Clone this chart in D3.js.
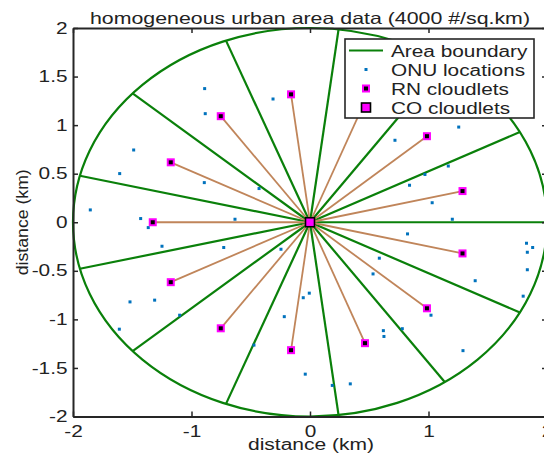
<!DOCTYPE html>
<html>
<head>
<meta charset="utf-8">
<script src="https://cdn.jsdelivr.net/npm/d3@7"></script>
<style>
  html, body { margin: 0; padding: 0; background: #fff; }
  svg { display: block; }
  text { font-family: "Liberation Sans", Arial, sans-serif; fill: #222; }
</style>
</head>
<body>
<svg id="chart" width="544" height="454"></svg>
<script>
// ---- data (km) ----
const title = "homogeneous urban area data (4000 #/sq.km)";
const xLabel = "distance (km)";
const yLabel = "distance (km)";
const xTicks = [-2, -1, 0, 1, 2];
const yTicks = [-2, -1.5, -1, -0.5, 0, 0.5, 1, 1.5, 2];
const areaRadius = 2;

// sector boundary end points on the area boundary
const boundaryX = [2.000, 1.771, 1.137, 0.241, -0.709, -1.497, -1.942, -1.942, -1.497, -0.709, 0.241, 1.137, 1.771];
const boundaryY = [0.000, 0.929, 1.645, 1.985, 1.870, 1.326, 0.479, -0.479, -1.326, -1.870, -1.985, -1.645, -0.929];

// RN cloudlets
const rnX = [1.287, 0.987, 0.464, -0.160, -0.753, -1.175, -1.327, -1.175, -0.753, -0.160, 0.464, 0.987, 1.287];
const rnY = [0.321, 0.886, 1.245, 1.317, 1.092, 0.617, 0.000, -0.617, -1.092, -1.317, -1.245, -0.886, -0.321];

// CO cloudlet
const coX = [0];
const coY = [0];

// ONU locations
const onuX = [-0.889, -0.884, -0.312, -1.488, -1.606, -0.892, -0.430, -1.854, -1.429, -1.365,
              -0.633, -1.249, -0.728, -1.311, -1.519, -1.100, -1.609, -0.473, -0.245, -0.006,
              -0.057, -0.217, -0.040, 0.188, 0.340, 0.585, 0.532, 0.619, 0.624, 0.779,
              1.021, 1.291, 0.823, 1.394, 1.799, 1.827, 1.879, 1.834, 1.834, 1.201,
              1.031, 0.840, 0.970, 1.167, 0.717, 1.255];
const onuY = [1.376, 1.118, 1.269, 0.744, 0.501, 0.408, 0.347, 0.127, 0.038, -0.055,
              0.031, -0.247, -0.260, -0.802, -0.820, -0.957, -1.101, -1.265, -0.278, -0.730,
              -0.777, -0.972, -1.564, -1.680, -1.664, -0.370, -0.532, -1.116, -1.176, -1.096,
              -0.957, -1.322, -0.120, -0.602, -0.761, -0.216, -0.260, -0.309, -0.489, 0.031,
              0.201, 0.381, 0.492, 0.579, 0.844, 0.980];

const legendLabels = ["Area boundary", "ONU locations", "RN cloudlets", "CO cloudlets"];

// ---- styles ----
const GREEN = "#0a800a";
const BROWN = "#c0855a";
const BLUE = "#0072BD";
const MAGENTA = "#ff00ff";
const AXIS = "#262626";
const STRETCH = 1.3;

const svg = d3.select("#chart");
const x = d3.scaleLinear().domain([-2, 2]).range([73, 547]);
const y = d3.scaleLinear().domain([-2, 2]).range([416.5, 28]);

function stretch(sel, f) {
  sel.each(function () {
    const w = this.getComputedTextLength();
    d3.select(this).attr("textLength", w * f).attr("lengthAdjust", "spacingAndGlyphs");
  });
}

const plot = svg.append("g");

// area boundary
plot.append("ellipse")
  .attr("cx", x(0)).attr("cy", y(0))
  .attr("rx", x(areaRadius) - x(0)).attr("ry", y(0) - y(areaRadius))
  .attr("fill", "none").attr("stroke", GREEN).attr("stroke-width", 2.2);

plot.selectAll("line.bnd").data(boundaryX).join("line").attr("class", "bnd")
  .attr("x1", x(coX[0])).attr("y1", y(coY[0]))
  .attr("x2", (d) => x(d)).attr("y2", (d, i) => y(boundaryY[i]))
  .attr("stroke", GREEN).attr("stroke-width", 2.2);

// RN links
plot.selectAll("line.lnk").data(rnX).join("line").attr("class", "lnk")
  .attr("x1", x(coX[0])).attr("y1", y(coY[0]))
  .attr("x2", (d) => x(d)).attr("y2", (d, i) => y(rnY[i]))
  .attr("stroke", BROWN).attr("stroke-width", 1.8);

// ONU points
plot.selectAll("rect.onu").data(onuX).join("rect").attr("class", "onu")
  .attr("x", (d) => x(d) - 1.5).attr("y", (d, i) => y(onuY[i]) - 1.5)
  .attr("width", 3).attr("height", 3).attr("fill", BLUE);

// RN markers
plot.selectAll("rect.rn").data(rnX).join("rect").attr("class", "rn")
  .attr("x", (d) => x(d) - 3).attr("y", (d, i) => y(rnY[i]) - 3)
  .attr("width", 6).attr("height", 6)
  .attr("fill", "#000").attr("stroke", MAGENTA).attr("stroke-width", 2);

// CO marker
plot.selectAll("rect.co").data(coX).join("rect").attr("class", "co")
  .attr("x", (d) => x(d) - 4.5).attr("y", (d, i) => y(coY[i]) - 4.5)
  .attr("width", 9).attr("height", 9)
  .attr("fill", MAGENTA).attr("stroke", "#000").attr("stroke-width", 1.6);

// ---- axes ----
const fmt = (d) => String(d);
const gx = svg.append("g").attr("transform", `translate(0,${y(-2)})`)
  .call(d3.axisBottom(x).tickValues(xTicks).tickFormat(fmt).tickSizeInner(-5).tickSizeOuter(0).tickPadding(9));
const gxt = svg.append("g").attr("transform", `translate(0,${y(2)})`)
  .call(d3.axisTop(x).tickValues(xTicks).tickFormat("").tickSizeInner(-5).tickSizeOuter(0));
const gy = svg.append("g").attr("transform", `translate(${x(-2)},0)`)
  .call(d3.axisLeft(y).tickValues(yTicks).tickFormat(fmt).tickSizeInner(-5).tickSizeOuter(0).tickPadding(5.5));
const gyr = svg.append("g").attr("transform", `translate(${x(2)},0)`)
  .call(d3.axisRight(y).tickValues(yTicks).tickFormat("").tickSizeInner(-5).tickSizeOuter(0));

[gx, gxt, gy, gyr].forEach((g) => {
  g.select(".domain").attr("stroke", AXIS).attr("stroke-width", 2);
  g.selectAll(".tick line").attr("stroke", AXIS).attr("stroke-width", 1.5);
  g.selectAll("text").attr("font-size", 16).attr("font-family", "Liberation Sans, Arial, sans-serif").attr("fill", "#222");
});
stretch(gx.selectAll(".tick text"), STRETCH);
stretch(gy.selectAll(".tick text"), STRETCH);

// ---- labels ----
svg.append("text").attr("x", 310).attr("y", 24).attr("text-anchor", "middle")
  .attr("font-size", 16.5).text(title)
  .attr("textLength", 440).attr("lengthAdjust", "spacingAndGlyphs");

svg.append("text").attr("x", 311).attr("y", 450).attr("text-anchor", "middle")
  .attr("font-size", 16).text(xLabel)
  .attr("textLength", 126).attr("lengthAdjust", "spacingAndGlyphs");

svg.append("text").attr("transform", `translate(28,${y(0)}) rotate(-90)`)
  .attr("text-anchor", "middle").attr("font-size", 16).text(yLabel)
  .attr("textLength", 106).attr("lengthAdjust", "spacingAndGlyphs");

// ---- legend ----
const lg = svg.append("g");
lg.append("rect").attr("x", 345).attr("y", 39).attr("width", 189).attr("height", 79)
  .attr("fill", "#fff").attr("stroke", AXIS).attr("stroke-width", 1.6);
const rowY = [50.5, 69.5, 88.5, 107.5];
lg.append("line").attr("x1", 349).attr("x2", 383).attr("y1", rowY[0]).attr("y2", rowY[0])
  .attr("stroke", GREEN).attr("stroke-width", 2.2);
lg.append("rect").attr("x", 366 - 1.5).attr("y", rowY[1] - 1.5).attr("width", 3).attr("height", 3).attr("fill", BLUE);
lg.append("rect").attr("x", 366 - 3).attr("y", rowY[2] - 3).attr("width", 6).attr("height", 6)
  .attr("fill", "#000").attr("stroke", MAGENTA).attr("stroke-width", 2);
lg.append("rect").attr("x", 366 - 4.5).attr("y", rowY[3] - 4.5).attr("width", 9).attr("height", 9)
  .attr("fill", MAGENTA).attr("stroke", "#000").attr("stroke-width", 1.6);
const lt = lg.selectAll("text.lg").data(legendLabels).join("text").attr("class", "lg")
  .attr("x", 391).attr("y", (d, i) => rowY[i] + 6).attr("font-size", 16).text((d) => d);
stretch(lt, STRETCH);
</script>
</body>
</html>
